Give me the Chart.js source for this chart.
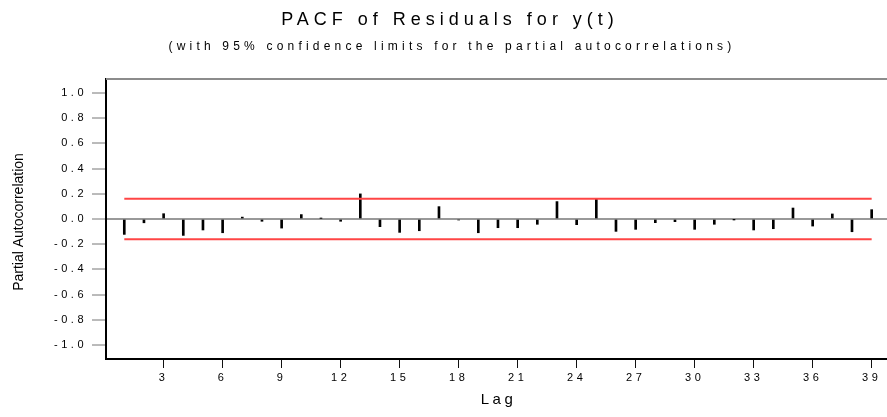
<!DOCTYPE html>
<html>
<head>
<meta charset="utf-8">
<script src="https://cdn.jsdelivr.net/npm/chart.js@4.4.1/dist/chart.umd.min.js"></script>
<style>
  html, body { margin: 0; padding: 0; background: #ffffff; }
  #wrap { width: 887px; height: 417px; position: relative; }
</style>
</head>
<body>
<div id="wrap"><canvas id="c" width="887" height="417"></canvas></div>
<script>
// ---- data ----
const lags = [1,2,3,4,5,6,7,8,9,10,11,12,13,14,15,16,17,18,19,20,21,22,23,24,25,26,27,28,29,30,31,32,33,34,35,36,37,38,39];
const pacf = [-0.122,-0.030,0.042,-0.130,-0.087,-0.109,0.015,-0.018,-0.072,0.035,
              0.005,-0.018,0.199,-0.061,-0.106,-0.093,0.098,-0.008,-0.109,-0.069,
              -0.069,-0.042,0.138,-0.045,0.164,-0.098,-0.082,-0.029,-0.021,-0.082,
              -0.042,-0.003,-0.087,-0.077,0.087,-0.056,0.040,-0.101,0.074];
const confUpper = 0.16;
const confLower = -0.16;
const xTickValues = [3,6,9,12,15,18,21,24,27,30,33,36,39];
const yTickValues = [-1.0,-0.8,-0.6,-0.4,-0.2,0.0,0.2,0.4,0.6,0.8,1.0];
const titleText = "PACF of Residuals for y(t)";
const subtitleText = "(with 95% confidence limits for the partial autocorrelations)";
const xTitleText = "Lag";
const yTitleText = "Partial Autocorrelation";

const FONT = '"Liberation Sans", Arial, Helvetica, sans-serif';

const textPlugin = {
  id: 'textPlugin',
  beforeDraw(chart) {
    chart.ctx.letterSpacing = '3.5px';
  },
  afterDraw(chart) {
    const ctx = chart.ctx;
    const a = chart.chartArea;
    ctx.save();
    // top border
    ctx.strokeStyle = '#8c8c8c';
    ctx.lineWidth = 2;
    ctx.beginPath();
    ctx.moveTo(a.left, a.top);
    ctx.lineTo(a.right, a.top);
    ctx.stroke();

    ctx.fillStyle = '#000';
    ctx.textAlign = 'center';
    ctx.textBaseline = 'middle';
    // title
    ctx.font = '18px ' + FONT;
    ctx.letterSpacing = '5px';
    ctx.fillText(titleText, 450, 20);
    // subtitle
    ctx.font = '12px ' + FONT;
    ctx.letterSpacing = '4.2px';
    ctx.fillText(subtitleText, 452, 47);
    // x title
    ctx.font = '15px ' + FONT;
    ctx.letterSpacing = '3.5px';
    ctx.fillText(xTitleText, (a.left + a.right) / 2 + 2, 400);
    // y title
    ctx.letterSpacing = '0px';
    ctx.font = '14px ' + FONT;
    ctx.translate(19, (a.top + a.bottom) / 2 + 3);
    ctx.rotate(-Math.PI / 2);
    ctx.fillText(yTitleText, 0, 0);
    ctx.restore();
    ctx.letterSpacing = '0px';
  }
};

const ctx = document.getElementById('c').getContext('2d');
new Chart(ctx, {
  data: {
    datasets: [
      {
        type: 'line',
        label: 'upper',
        data: [{x: lags[0], y: confUpper}, {x: lags[lags.length - 1], y: confUpper}],
        borderColor: '#ff4545',
        borderWidth: 2,
        pointRadius: 0,
        fill: false,
        order: 0
      },
      {
        type: 'line',
        label: 'lower',
        data: [{x: lags[0], y: confLower}, {x: lags[lags.length - 1], y: confLower}],
        borderColor: '#ff4545',
        borderWidth: 2,
        pointRadius: 0,
        fill: false,
        order: 0
      },
      {
        type: 'bar',
        label: 'PACF',
        data: lags.map((l, i) => ({x: l, y: pacf[i]})),
        backgroundColor: '#000000',
        borderWidth: 0,
        barThickness: 2,
        order: 1
      }
    ]
  },
  options: {
    responsive: false,
    animation: false,
    devicePixelRatio: 1,
    layout: { padding: { top: 79, left: 0, right: 0, bottom: 0 } },
    plugins: {
      legend: { display: false },
      title: { display: false },
      tooltip: { enabled: false }
    },
    scales: {
      x: {
        type: 'linear',
        offset: false,
        min: 0.07,
        max: 39.78,
        afterBuildTicks(scale) { scale.ticks = xTickValues.map(v => ({value: v})); },
        afterFit(scale) { scale.height = 58; },
        ticks: {
          autoSkip: false,
          maxRotation: 0,
          color: '#000',
          font: { size: 11, family: FONT },
          padding: 3,
          callback: v => String(v)
        },
        grid: {
          offset: false,
          drawOnChartArea: false,
          drawTicks: true,
          tickLength: 9,
          tickColor: '#111',
          tickWidth: 1
        },
        border: { display: true, color: '#000', width: 2 }
      },
      y: {
        type: 'linear',
        min: -1.11,
        max: 1.11,
        afterBuildTicks(scale) { scale.ticks = yTickValues.map(v => ({value: v})); },
        afterFit(scale) { scale.width = 106; },
        ticks: {
          color: '#000',
          font: { size: 11, family: FONT },
          padding: 5,
          callback: v => Number(v).toFixed(1)
        },
        grid: {
          drawOnChartArea: true,
          color: c => (c.tick && c.tick.value === 0) ? '#999999' : 'rgba(0,0,0,0)',
          lineWidth: c => (c.tick && c.tick.value === 0) ? 2 : 0,
          drawTicks: true,
          tickLength: 14,
          tickColor: '#777',
          tickWidth: 1
        },
        border: { display: true, color: '#000', width: 2 }
      }
    }
  },
  plugins: [textPlugin]
});
</script>
</body>
</html>
